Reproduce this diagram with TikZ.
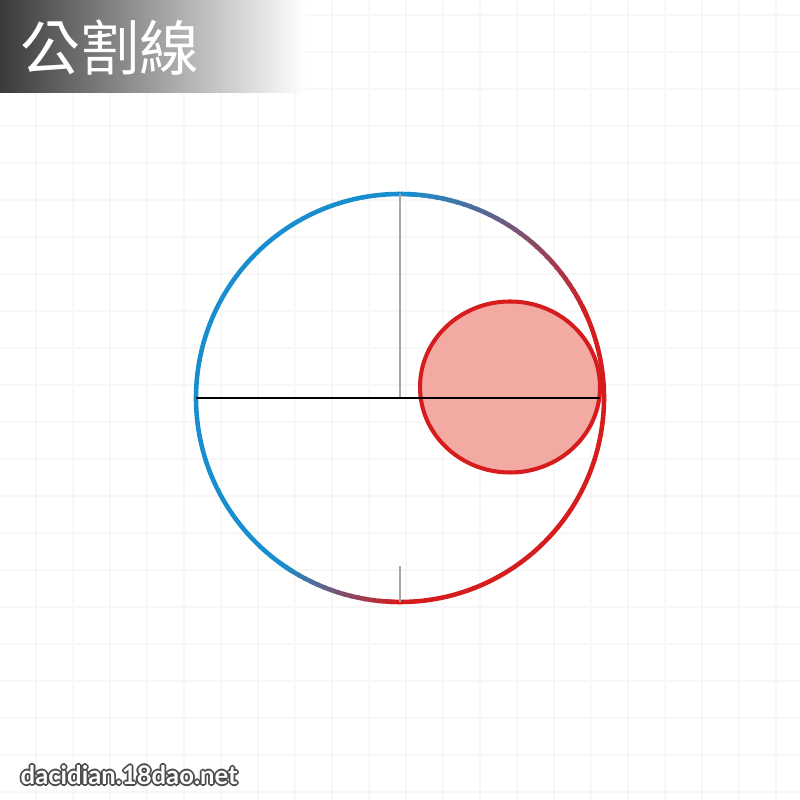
\documentclass[tikz,border=0pt]{standalone}
\usepackage{fontspec}
\newfontfamily\cjkfont{Noto Sans CJK TC}
\newfontfamily\wmfont{Lato}
\usepackage{tikz}
\usetikzlibrary{positioning,calc}
\usepackage{xcolor}

\definecolor{circblue}{RGB}{24,142,206}
\definecolor{circred}{RGB}{214,28,28}
\definecolor{circfill}{RGB}{242,170,162}
\definecolor{headgray}{RGB}{58,58,58}

\begin{document}
\begin{tikzpicture}[
    gridline/.style={draw=black!3, line width=0.4pt},
    headbar/.style={left color=headgray, right color=white},
    title/.style={font=\cjkfont\fontsize{17}{17}\selectfont, text=white, inner sep=0pt},
    bigarc/.style={line width=1.3pt},
    smallcirc/.style={draw=circred, fill=circfill, line width=1.15pt},
    diam/.style={draw=black, line width=0.6pt},
    guide/.style={draw=black!35, line width=0.35pt},
    wmark/.style={font=\wmfont\bfseries\fontsize{7.3}{7.3}\selectfont, inner sep=0pt, anchor=west}
]

% Canvas and grid
\useasboundingbox (0,0) rectangle (8,8);
\fill[white] (0,0) rectangle (8,8);
\foreach \x in {0.36,0.73,...,8.0} \draw[gridline] (\x,0) -- (\x,8);
\foreach \y in {0.08,0.45,...,8.0} \draw[gridline] (0,\y) -- (8,\y);

% Header
\shade[headbar] (0,7.07) rectangle (3.05,8);
\node (title) [title] at (1.10,7.52) {公割線};

% Key points
\coordinate (O) at (4.00,4.02);
\coordinate (top) at (4.00,6.06);
\coordinate (bot) at (4.00,1.98);
\coordinate (L) at (1.96,4.02);
\coordinate (R) at (6.00,4.02);
\coordinate (C) at (5.10,4.13);

% Small circle
\fill[circfill] (C) ellipse [x radius=0.90, y radius=0.855];

% Big circle: blue part, red part, then blended pieces
\draw[bigarc, circblue] ($(O)+(86:2.04)$) arc (86:238:2.04);
\draw[bigarc, circred] ($(O)+(266:2.04)$) arc (266:387:2.04);
\foreach \a [evaluate=\a as \p using {(88-\a)/64*100}] in {88,86,...,26}
    \draw[bigarc, circred!\p!circblue] ($(O)+(\a:2.04)$) arc (\a:\a-2.5:2.04);
\foreach \a [evaluate=\a as \p using {(\a-234)/34*100}] in {234,236,...,266}
    \draw[bigarc, circred!\p!circblue] ($(O)+(\a:2.04)$) arc (\a:\a+2.5:2.04);

\draw[smallcirc, fill=none] (C) ellipse [x radius=0.90, y radius=0.855];

% Guides and diameter
\draw[guide] (top) -- (O);
\draw[guide] (bot) -- ($(bot)+(0,0.36)$);
\draw[diam] (L) -- (R);

% Watermark
\coordinate (W) at (0.20,0.25);
\foreach \dx/\dy [count=\i] in {0.018/0,-0.018/0,0/0.018,0/-0.018,0.013/0.013,-0.013/0.013,0.013/-0.013,-0.013/-0.013}
    \node (wm\i) [wmark, text=black!70] at ($(W)+(\dx,\dy)$) {dacidian.18dao.net};
\node (wm) [wmark, text=white] at (W) {dacidian.18dao.net};

\end{tikzpicture}
\end{document}
